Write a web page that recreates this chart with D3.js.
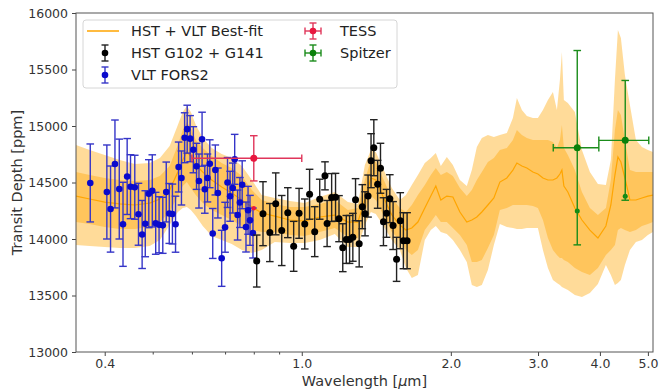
<!DOCTYPE html>
<html>
<head>
<meta charset="utf-8">
<script src="https://cdn.jsdelivr.net/npm/d3@7"></script>
<style>
  body { margin: 0; background: #fff; }
  svg { font-family: "DejaVu Sans", sans-serif; }
</style>
</head>
<body>
<div id="chart"></div>
<script>
// VLT FORS2 (blue)
const vltWave = [0.374,0.404,0.411,0.4195,0.428,0.4355,0.444,0.451,0.460,0.468,0.476,0.483,0.491,0.499,0.507,0.515,0.524,0.5325,0.540,0.548,0.556,0.564,0.5715,0.580,0.587,0.595,0.604,0.613,0.620,0.629,0.637,0.645,0.652,0.661,0.669,0.677,0.689,0.700,0.708,0.7165,0.7255,0.732,0.742,0.750,0.758,0.7715,0.779,0.786,0.797];
const vltDepth = [14496,14416,14265,14664,14442,14130,14553,14463,14458,14219,14040,14135,14401,14426,14139,14126,14121,14416,14226,14221,14131,14637,14540,14896,14972,14888,14790,14643,14513,14883,14440,14540,14666,14049,14611,14407,13829,14104,14500,14378,14451,14705,14212,14323,14480,14106,14254,14165,14053];
const vltErr = [345,416,381,389,442,372,336,283,283,274,301,292,301,319,274,248,248,265,265,265,248,221,239,221,212,204,204,204,239,239,212,212,212,221,221,221,248,221,221,221,221,221,221,221,212,221,212,221,221];

// HST G102 + G141 (black)
const hstWave = [0.811,0.835,0.862,0.886,0.911,0.937,0.963,0.9875,1.014,1.037,1.062,1.087,1.114,1.125,1.149,1.170,1.189,1.210,1.230,1.249,1.268,1.284,1.306,1.325,1.342,1.361,1.380,1.398,1.423,1.442,1.462,1.483,1.506,1.529,1.554,1.581,1.604,1.632];
const hstDepth = [13805,14224,14057,14311,14075,14233,13935,14227,14133,14396,14065,14352,14559,14137,14367,14369,14180,13923,13996,13996,14015,14348,13957,14286,14223,14380,14693,14808,14484,14626,14153,14227,14357,14119,13820,14162,13985,13985];
const hstErr = [230,283,257,274,310,221,221,221,221,221,221,177,124,204,212,212,204,212,212,212,212,186,204,195,195,186,239,248,212,221,212,212,212,212,195,248,248,248];

// TESS and Spitzer
const tessWave = [0.8], tessWaveErr = [0.2], tessDepth = [14714], tessErr = [200], tessModel = [14272];
const spitzerWave = [3.6, 4.5], spitzerWaveErr = [0.38, 0.52];
const spitzerDepth = [14808, 14873], spitzerErr = [860, 530], spitzerModel = [14248, 14378];

// best-fit model and its 1/2 sigma envelopes
const modelWave = [0.35,0.373,0.400,0.429,0.460,0.493,0.517,0.541,0.562,0.575,0.586,0.597,0.611,0.631,0.658,0.689,0.722,0.757,0.793,0.830,0.882,0.946,1.014,1.087,1.166,1.239,1.298,1.341,1.379,1.411,1.458,1.520,1.578,1.623,1.668,1.716,1.772,1.822,1.865,1.909,1.963,2.019,2.086,2.154,2.205,2.257,2.310,2.376,2.443,2.512,2.595,2.669,2.719,2.783,2.848,2.929,2.998,3.069,3.141,3.215,3.275,3.321,3.352,3.383,3.446,3.560,3.679,3.818,3.963,4.113,4.209,4.289,4.349,4.410,4.493,4.599,4.729,4.863,5.000,5.118];
const modelDepth = [14380,14354,14327,14310,14301,14318,14354,14433,14593,14699,14770,14734,14655,14593,14522,14460,14407,14345,14283,14230,14203,14168,14159,14195,14212,14150,14150,14345,14540,14522,14380,14212,14124,14079,14097,14150,14274,14380,14469,14345,14380,14372,14239,14150,14168,14195,14239,14301,14363,14504,14540,14610,14672,14646,14628,14593,14575,14540,14522,14522,14540,14575,14610,14469,14416,14274,14168,14079,14009,14115,14301,14566,14726,14681,14540,14345,14345,14363,14380,14389];
const sig1Hi = [14593,14566,14540,14522,14513,14522,14557,14646,14832,14964,15035,14982,14876,14805,14734,14672,14628,14557,14433,14345,14310,14283,14283,14310,14345,14256,14274,14522,14699,14681,14540,14363,14274,14239,14301,14389,14478,14566,14628,14566,14593,14557,14451,14380,14433,14522,14593,14681,14717,14787,14805,14876,14964,14920,14894,14876,14876,14876,14876,14858,14805,14876,15009,14805,14743,14610,14416,14274,14212,14274,14522,14964,15141,15097,14876,14610,14593,14593,14593,14593];
const sig1Lo = [14150,14133,14106,14088,14088,14106,14150,14239,14380,14469,14504,14451,14389,14318,14256,14212,14168,14115,14079,14062,14062,14035,14026,14062,14097,14018,14009,14239,14380,14345,14221,14062,13991,13902,13858,13902,14079,14150,14212,14150,14150,14097,14035,13947,13796,13796,13814,13920,14035,14256,14274,14301,14301,14301,14301,14292,14274,14168,14009,13902,13858,13832,13832,13814,13796,13743,13708,13681,13743,13858,13902,13947,14079,14097,14079,14062,14079,14115,14133,14150];
const sig2Hi = [14832,14787,14743,14699,14664,14672,14717,14823,15009,15124,15177,15124,15009,14894,14805,14752,14717,14646,14522,14389,14363,14336,14318,14372,14416,14327,14310,14655,14787,14770,14628,14451,14345,14389,14478,14566,14672,14717,14761,14646,14726,14655,14522,14469,14610,14814,14894,14920,14903,14920,14938,15071,15248,15141,15088,15071,15071,15141,15230,15301,15141,15407,15655,15230,15203,15124,14787,14593,14487,14478,14699,15407,15850,15779,15451,15186,14876,14814,14787,14770];
const sig2Lo = [13947,13938,13929,13920,13920,13938,13991,14124,14239,14274,14283,14256,14203,14115,14026,13991,13956,13902,13876,13902,13973,13964,13964,13991,14044,13929,13929,14124,14239,14221,14124,13991,13902,13743,13655,13681,13991,14079,14115,14062,14044,13991,13902,13796,13593,13575,13593,13725,13947,14133,14106,14097,14088,14088,14097,14097,14097,13902,13743,13637,13610,13593,13575,13566,13548,13504,13487,13522,13602,13770,13681,13593,13610,13637,13770,13902,13973,13991,14035,14062];

const yTicks = [13000,13500,14000,14500,15000,15500,16000];
const xLabelTicks = [0.4,1.0,2.0,3.0,4.0,5.0];
const xMinorTicks = [0.5,0.6,0.7,0.8,0.9];

const W = 660, H = 392;
const pL = 76, pR = 653, pT = 13, pB = 352;

const svg = d3.select("#chart").append("svg").attr("width", W).attr("height", H);

const x = d3.scaleLog().domain([0.35, 5.12]).range([pL, pR]);
const y = d3.scaleLinear().domain([13000, 16000]).range([pB, pT]);

svg.append("clipPath").attr("id", "clip")
  .append("rect").attr("x", pL).attr("y", pT)
  .attr("width", pR - pL).attr("height", pB - pT);

const plot = svg.append("g").attr("clip-path", "url(#clip)");

const model = modelWave.map((w, i) => ({
  w: w, mid: modelDepth[i], lo1: sig1Lo[i], hi1: sig1Hi[i], lo2: sig2Lo[i], hi2: sig2Hi[i]
}));

plot.append("path").datum(model)
  .attr("fill", "#ffa500").attr("fill-opacity", 0.4)
  .attr("d", d3.area().x(d => x(d.w)).y0(d => y(d.lo2)).y1(d => y(d.hi2)));
plot.append("path").datum(model)
  .attr("fill", "#ffa500").attr("fill-opacity", 0.4)
  .attr("d", d3.area().x(d => x(d.w)).y0(d => y(d.lo1)).y1(d => y(d.hi1)));
plot.append("path").datum(model)
  .attr("fill", "none").attr("stroke", "#ffa500").attr("stroke-width", 1.2)
  .attr("d", d3.line().x(d => x(d.w)).y(d => y(d.mid)));

function errorbars(g, pts, opt) {
  const grp = g.append("g");
  pts.forEach(p => {
    const cx = x(p.w), cy = y(p.d);
    const y0 = y(p.d - p.e), y1 = y(p.d + p.e);
    grp.append("line").attr("x1", cx).attr("x2", cx).attr("y1", y0).attr("y2", y1)
      .attr("stroke", opt.bar).attr("stroke-width", 1.4);
    [y0, y1].forEach(yy => grp.append("line")
      .attr("x1", cx - opt.cap).attr("x2", cx + opt.cap).attr("y1", yy).attr("y2", yy)
      .attr("stroke", opt.bar).attr("stroke-width", 1.4));
    if (p.we) {
      const xa = x(p.w - p.we), xb = x(p.w + p.we);
      grp.append("line").attr("x1", xa).attr("x2", xb).attr("y1", cy).attr("y2", cy)
        .attr("stroke", opt.bar).attr("stroke-width", 1.4);
      [xa, xb].forEach(xx => grp.append("line")
        .attr("x1", xx).attr("x2", xx).attr("y1", cy - opt.cap).attr("y2", cy + opt.cap)
        .attr("stroke", opt.bar).attr("stroke-width", 1.4));
    }
  });
  pts.forEach(p => {
    grp.append("circle").attr("cx", x(p.w)).attr("cy", y(p.d)).attr("r", opt.r).attr("fill", opt.dot);
  });
}

errorbars(svg, vltWave.map((w, i) => ({ w: w, d: vltDepth[i], e: vltErr[i] })),
  { bar: "#3535c8", dot: "#0a0acc", r: 3.3, cap: 3.8 });
errorbars(svg, hstWave.map((w, i) => ({ w: w, d: hstDepth[i], e: hstErr[i] })),
  { bar: "#222", dot: "#000", r: 3.5, cap: 3.8 });

// binned model points
svg.selectAll(".tessModel").data(tessWave).enter().append("circle")
  .attr("cx", d => x(d)).attr("cy", (d, i) => y(tessModel[i])).attr("r", 2.2).attr("fill", "#e8173f");
svg.selectAll(".spModel").data(spitzerWave).enter().append("circle")
  .attr("cx", d => x(d)).attr("cy", (d, i) => y(spitzerModel[i])).attr("r", 2.5).attr("fill", "#108a10");

errorbars(svg, tessWave.map((w, i) => ({ w: w, d: tessDepth[i], e: tessErr[i], we: tessWaveErr[i] })),
  { bar: "#e0355a", dot: "#e8173f", r: 3.5, cap: 3.8 });
errorbars(svg, spitzerWave.map((w, i) => ({ w: w, d: spitzerDepth[i], e: spitzerErr[i], we: spitzerWaveErr[i] })),
  { bar: "#1a8c1a", dot: "#0a800a", r: 3.5, cap: 3.8 });

// axes
const yAxis = svg.append("g").attr("transform", `translate(${pL},0)`)
  .call(d3.axisLeft(y).tickValues(yTicks).tickSize(4).tickPadding(4).tickFormat(d3.format("d")));
const xAxis = svg.append("g").attr("transform", `translate(0,${pB})`)
  .call(d3.axisBottom(x).tickValues(xLabelTicks.concat(xMinorTicks)).tickSize(4).tickPadding(3)
    .tickFormat(d => xLabelTicks.includes(d) ? d3.format(".1f")(d) : ""));
xAxis.selectAll(".tick").filter(d => !xLabelTicks.includes(d)).select("line").attr("y2", 2.5);
[xAxis, yAxis].forEach(a => {
  a.select(".domain").remove();
  a.selectAll("text").attr("font-size", 12.5).attr("fill", "#333").attr("font-family", "DejaVu Sans");
  a.selectAll("line").attr("stroke", "#444");
});

svg.append("rect").attr("x", pL).attr("y", pT).attr("width", pR - pL).attr("height", pB - pT)
  .attr("fill", "none").attr("stroke", "#555").attr("stroke-width", 1);

svg.append("text").attr("x", (pL + pR) / 2).attr("y", 386).attr("text-anchor", "middle")
  .attr("font-size", 14.5).attr("fill", "#333")
  .call(t => {
    t.append("tspan").text("Wavelength [");
    t.append("tspan").attr("font-style", "italic").text("μ");
    t.append("tspan").text("m]");
  });
svg.append("text").attr("transform", `translate(22,${(pT + pB) / 2}) rotate(-90)`)
  .attr("text-anchor", "middle").attr("font-size", 14.5).attr("fill", "#333")
  .text("Transit Depth [ppm]");

// legend
const lg = svg.append("g");
lg.append("rect").attr("x", 83).attr("y", 20).attr("width", 314).attr("height", 68).attr("rx", 3)
  .attr("fill", "#fff").attr("fill-opacity", 0.85).attr("stroke", "#d6d6d6");

function legendBar(cx, cy, col, dot, horiz) {
  lg.append("line").attr("x1", cx).attr("x2", cx).attr("y1", cy - 8).attr("y2", cy + 8)
    .attr("stroke", col).attr("stroke-width", 1.4);
  [cy - 8, cy + 8].forEach(v => lg.append("line").attr("x1", cx - 3.5).attr("x2", cx + 3.5)
    .attr("y1", v).attr("y2", v).attr("stroke", col).attr("stroke-width", 1.4));
  if (horiz) {
    lg.append("line").attr("x1", cx - 8).attr("x2", cx + 8).attr("y1", cy).attr("y2", cy)
      .attr("stroke", col).attr("stroke-width", 1.4);
    [cx - 8, cx + 8].forEach(v => lg.append("line").attr("x1", v).attr("x2", v)
      .attr("y1", cy - 3.5).attr("y2", cy + 3.5).attr("stroke", col).attr("stroke-width", 1.4));
  }
  lg.append("circle").attr("cx", cx).attr("cy", cy).attr("r", 3.3).attr("fill", dot);
}

lg.append("line").attr("x1", 87).attr("x2", 119).attr("y1", 31).attr("y2", 31)
  .attr("stroke", "#ffa500").attr("stroke-width", 1.5);
legendBar(105, 53, "#222", "#000", false);
legendBar(105, 75, "#3535c8", "#0a0acc", false);
legendBar(313, 31, "#e0355a", "#e8173f", true);
legendBar(313, 53, "#1a8c1a", "#0a800a", true);

const legendText = [
  ["HST + VLT Best-fit", 131, 31], ["HST G102 + G141", 131, 53], ["VLT FORS2", 131, 75],
  ["TESS", 340, 31], ["Spitzer", 340, 53]
];
lg.selectAll(".lt").data(legendText).enter().append("text")
  .attr("x", d => d[1]).attr("y", d => d[2]).attr("dy", "0.36em")
  .attr("font-size", 14.5).attr("fill", "#222").text(d => d[0]);
</script>
</body>
</html>
